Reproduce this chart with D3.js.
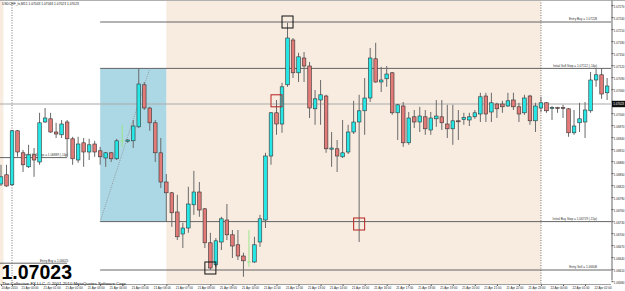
<!DOCTYPE html>
<html>
<head>
<meta charset="utf-8">
<script src="https://cdn.jsdelivr.net/npm/d3@7"></script>
<style>
  body { margin: 0; background: #fff; }
  svg { display: block; font-family: "Liberation Sans", Arial, sans-serif; }
</style>
</head>
<body>
<div id="chart"></div>
<script>
// USDCHF M15, first visible bar 20 Apr 2010 23:30, one bar every 15 min
const open = [1.06823,1.06846,1.06821,1.06956,1.06901,1.06866,1.06896,1.06878,1.06978,1.06986,
  1.06953,1.06946,1.06978,1.06936,1.06883,1.06926,1.06903,1.06923,1.06906,1.06888,
  1.06901,1.06886,1.06931,1.06930,1.06931,1.06966,1.07071,1.07013,1.06976,1.06901,
  1.06828,1.06801,1.06753,1.06698,1.06713,1.06771,1.06803,1.06761,1.06676,1.06621,
  1.06678,1.06733,1.06696,1.06671,1.06643,1.06628,1.06628,1.06678,1.06733,1.06893,
  1.07001,1.06973,1.07071,1.07183,1.07101,1.07138,1.07118,1.07011,1.07033,1.07043,
  1.06910,1.06911,1.06891,1.06903,1.06953,1.06978,1.07006,1.07038,1.07136,1.07078,
  1.07086,1.07101,1.07001,1.07018,1.06926,1.06991,1.06978,1.06991,1.06958,1.06986,
  1.06991,1.06973,1.06961,1.06981,1.06984,1.06983,1.06991,1.06998,1.07043,1.07003,
  1.07023,1.07023,1.07018,1.07033,1.07016,1.07001,1.07043,1.06981,1.07013,1.07026,
  1.07012,1.07014,1.07014,1.07011,1.06951,1.06976,1.06978,1.07006,1.07083,1.07096,
  1.07051];
const high = [1.06871,1.06871,1.06958,1.06958,1.06908,1.06921,1.06913,1.07001,1.07013,1.07001,
  1.06976,1.06983,1.06983,1.06941,1.06941,1.06938,1.06936,1.06931,1.06916,1.06903,
  1.06903,1.06936,1.06971,1.06935,1.06983,1.07113,1.07078,1.07016,1.06983,1.06938,
  1.06848,1.06803,1.06796,1.06726,1.06816,1.06856,1.06828,1.06763,1.06701,1.06688,
  1.06741,1.06773,1.06708,1.06708,1.06651,1.06708,1.06691,1.06746,1.06901,1.07003,
  1.07033,1.07076,1.07226,1.07188,1.07151,1.07153,1.07128,1.07058,1.07083,1.07046,
  1.06953,1.06933,1.06983,1.06971,1.07031,1.07046,1.07088,1.07163,1.07176,1.07116,
  1.07118,1.07103,1.07023,1.07028,1.07003,1.07008,1.07016,1.07008,1.07003,1.07033,
  1.07033,1.07021,1.07021,1.07008,1.07001,1.07001,1.07008,1.07051,1.07051,1.07051,
  1.07026,1.07031,1.07051,1.07051,1.07026,1.07046,1.07046,1.07026,1.07041,1.07028,
  1.07018,1.07016,1.07021,1.07013,1.07008,1.07026,1.07028,1.07103,1.07113,1.07113,
  1.07088];
const low = [1.06818,1.06816,1.06818,1.06891,1.06853,1.06863,1.06841,1.06871,1.06976,1.06951,
  1.06938,1.06938,1.06891,1.06871,1.06876,1.06866,1.06883,1.06891,1.06871,1.06866,
  1.06878,1.06883,1.06916,1.06926,1.06913,1.06963,1.07008,1.06956,1.06878,1.06813,
  1.06728,1.06716,1.06683,1.06663,1.06701,1.06746,1.06741,1.06663,1.06608,1.06616,
  1.06658,1.06683,1.06638,1.06633,1.06591,1.06616,1.06626,1.06666,1.06713,1.06871,
  1.06946,1.06951,1.07066,1.07088,1.07078,1.07078,1.06988,1.06971,1.06971,1.06901,
  1.06866,1.06853,1.06888,1.06898,1.06948,1.06678,1.06946,1.07028,1.07076,1.07053,
  1.07066,1.06996,1.06933,1.06916,1.06921,1.06963,1.06953,1.06946,1.06946,1.06966,
  1.06958,1.06938,1.06921,1.06933,1.06971,1.06968,1.06986,1.06978,1.06978,1.06978,
  1.06988,1.07001,1.07016,1.07008,1.06978,1.06996,1.06971,1.06953,1.07003,1.07001,
  1.06983,1.07001,1.06988,1.06941,1.06946,1.06953,1.06938,1.07001,1.07066,1.07036,
  1.07033];
const close = [1.06841,1.06818,1.06956,1.06903,1.06871,1.06896,1.06883,1.06976,1.06988,1.06953,
  1.06948,1.06973,1.06936,1.06886,1.06923,1.06903,1.06921,1.06903,1.06891,1.06901,
  1.06886,1.06931,1.06931,1.06933,1.06968,1.07073,1.07013,1.06976,1.06901,1.06828,
  1.06801,1.06751,1.06691,1.06713,1.06773,1.06803,1.06758,1.06676,1.06613,1.06681,
  1.06736,1.06696,1.06668,1.06643,1.06631,1.06628,1.06671,1.06736,1.06893,1.07001,
  1.06973,1.07066,1.07188,1.07101,1.07141,1.07118,1.07013,1.07036,1.07046,1.06911,
  1.06913,1.06893,1.06901,1.06953,1.06978,1.07006,1.07038,1.07138,1.07078,1.07083,
  1.07098,1.07001,1.07021,1.06926,1.06988,1.06978,1.06993,1.06961,1.06988,1.06993,
  1.06976,1.06961,1.06981,1.06980,1.06989,1.06991,1.07001,1.07041,1.06998,1.07026,
  1.07011,1.07016,1.07031,1.07016,1.06998,1.07038,1.06981,1.07018,1.07026,1.07006,
  1.07014,1.07012,1.07012,1.06951,1.06968,1.06986,1.07008,1.07083,1.07096,1.07048,
  1.07068];

// axis labels
const yTicks = [1.07270,1.07240,1.07210,1.07180,1.07150,1.07120,1.07090,1.07060,1.07030,1.07000,
  1.06970,1.06940,1.06910,1.06880,1.06850,1.06820,1.06790,1.06760,1.06730,1.06700,
  1.06670,1.06640,1.06610,1.06580];
const xTickLabels = ["20 Apr 2010","21 Apr 00:00","21 Apr 01:00","21 Apr 02:00","21 Apr 03:00","21 Apr 04:00",
  "21 Apr 05:00","21 Apr 06:00","21 Apr 07:00","21 Apr 08:00","21 Apr 09:00","21 Apr 10:00",
  "21 Apr 11:00","21 Apr 12:00","21 Apr 13:00","21 Apr 14:00","21 Apr 15:00","21 Apr 16:00",
  "21 Apr 17:00","21 Apr 18:00","21 Apr 19:00","21 Apr 20:00","21 Apr 21:00","21 Apr 22:00",
  "21 Apr 23:00","22 Apr 00:00","22 Apr 01:00","22 Apr 02:00"];

// objects on the chart (bar index / price)
const levelNames = ["Entry Buy = 1.07228","Initial Sell Stop = 1.07112 (-14p)","Initial Buy Stop = 1.06729 (-15p)",
  "Entry Sell = 1.06608","Initial Sell Stop = 1.06889 (-14p)","Entry Buy = 1.06625"];
const levelPrices = [1.07228, 1.07112, 1.06729, 1.06608, 1.06889, 1.06625];
const levelFrom = [18, 18, 18, 18, -3, -3];
const levelTo = [115, 115, 115, 115, 12, 12];
const levelLabelBar = [108, 108, 108, 108, 12, 12];
const shadeFrom = [-3, 30];
const shadeTo = [0.45, 98];
const separatorBars = [2, 98];
const boxBars = [18, 30];
const boxPrices = [1.07112, 1.06729];
const trendBars = [18, 27];
const trendPrices = [1.06729, 1.07112];
const markerBars = [52, 50, 38, 65];
const markerPrices = [1.07228, 1.07031, 1.06613, 1.06723];
const markerColors = ["#111", "#b52020", "#111", "#b52020"];
const bid = 1.07023;

const W = 625, H = 291;
const plotRight = 611, plotBottom = 284;

const x = d3.scaleLinear().domain([0, 110]).range([1, 607.1]);
const y = d3.scaleLinear().domain([1.07283, 1.06583]).range([0, 280]);

const svg = d3.select("#chart").append("svg")
  .attr("width", W).attr("height", H);

svg.append("rect").attr("width", W).attr("height", H).attr("fill", "#fff");

svg.append("defs").append("clipPath").attr("id", "plot")
  .append("rect").attr("x", 0).attr("y", 0).attr("width", plotRight).attr("height", plotBottom);

const plot = svg.append("g").attr("clip-path", "url(#plot)");

// session shading
plot.selectAll("rect.shade").data(shadeFrom).join("rect")
  .attr("class", "shade")
  .attr("x", d => x(d))
  .attr("y", 0)
  .attr("width", (d, i) => x(shadeTo[i]) - x(d))
  .attr("height", plotBottom)
  .attr("fill", "#f8ece1");

// range box
plot.append("rect")
  .attr("x", x(boxBars[0])).attr("y", y(boxPrices[0]))
  .attr("width", x(boxBars[1]) - x(boxBars[0]))
  .attr("height", y(boxPrices[1]) - y(boxPrices[0]))
  .attr("fill", "#acd8e6");

// day separators
plot.selectAll("line.sep").data(separatorBars).join("line")
  .attr("class", "sep")
  .attr("x1", d => x(d)).attr("x2", d => x(d))
  .attr("y1", 0).attr("y2", plotBottom)
  .attr("stroke", "#555").attr("stroke-width", 0.8)
  .attr("stroke-dasharray", "1,1.5");

// bid line
plot.append("line")
  .attr("x1", 0).attr("x2", plotRight)
  .attr("y1", y(bid)).attr("y2", y(bid))
  .attr("stroke", "#a9a9a9").attr("stroke-width", 1.2);

// level lines + labels
plot.selectAll("line.level").data(levelPrices).join("line")
  .attr("class", "level")
  .attr("x1", (d, i) => x(levelFrom[i])).attr("x2", (d, i) => x(levelTo[i]))
  .attr("y1", d => y(d)).attr("y2", d => y(d))
  .attr("stroke", "#555").attr("stroke-width", 0.9);

plot.selectAll("text.level").data(levelPrices).join("text")
  .attr("class", "level")
  .attr("x", (d, i) => x(levelLabelBar[i]) + 1)
  .attr("y", d => y(d) - 1.6)
  .attr("text-anchor", "end")
  .attr("font-size", 3.1)
  .attr("fill", "#333")
  .text((d, i) => levelNames[i]);

// dotted trend line inside the box
plot.append("line")
  .attr("x1", x(trendBars[0])).attr("y1", y(trendPrices[0]))
  .attr("x2", x(trendBars[1])).attr("y2", y(trendPrices[1]))
  .attr("stroke", "#8a8a8a").attr("stroke-width", 0.8)
  .attr("stroke-dasharray", "1,1.2");

// candles
const bars = d3.range(open.length);
const bodyW = 3.6;
const upColor = "#26e6e6", downColor = "#e27a78", dojiColor = "#9be58c";

plot.selectAll("line.wick").data(bars).join("line")
  .attr("class", "wick")
  .attr("x1", i => x(i)).attr("x2", i => x(i))
  .attr("y1", i => y(high[i])).attr("y2", i => y(low[i]))
  .attr("stroke", i => open[i] === close[i] ? dojiColor : "#6a6a6a")
  .attr("stroke-width", 1);

plot.selectAll("rect.body").data(bars.filter(i => open[i] !== close[i])).join("rect")
  .attr("class", "body")
  .attr("x", i => x(i) - bodyW / 2)
  .attr("y", i => y(Math.max(open[i], close[i])))
  .attr("width", bodyW)
  .attr("height", i => Math.max(1, Math.abs(y(open[i]) - y(close[i]))))
  .attr("fill", i => close[i] > open[i] ? upColor : downColor)
  .attr("stroke", "#333").attr("stroke-width", 0.6);

plot.selectAll("line.doji").data(bars.filter(i => open[i] === close[i])).join("line")
  .attr("class", "doji")
  .attr("x1", i => x(i) - bodyW / 2).attr("x2", i => x(i) + bodyW / 2)
  .attr("y1", i => y(open[i])).attr("y2", i => y(open[i]))
  .attr("stroke", dojiColor).attr("stroke-width", 1);

// trade markers
plot.selectAll("rect.marker").data(markerBars).join("rect")
  .attr("class", "marker")
  .attr("x", d => x(d) - 5.5)
  .attr("y", (d, i) => y(markerPrices[i]) - 6)
  .attr("width", 11).attr("height", 12)
  .attr("fill", "none")
  .attr("stroke", (d, i) => markerColors[i]).attr("stroke-width", 1);

// frame
svg.append("line").attr("x1", 0).attr("x2", W).attr("y1", 0.5).attr("y2", 0.5)
  .attr("stroke", "#b0b0b0");
svg.append("line").attr("x1", 0).attr("x2", plotRight).attr("y1", plotBottom + 0.5).attr("y2", plotBottom + 0.5)
  .attr("stroke", "#888").attr("stroke-width", 0.8);

// price axis
const yAxis = svg.append("g")
  .attr("transform", `translate(${plotRight + 0.5},0)`)
  .call(d3.axisRight(y).tickValues(yTicks).tickSize(2).tickSizeOuter(0).tickFormat(d3.format(".5f")));
yAxis.select(".domain").attr("stroke", "#666");
yAxis.selectAll(".tick line").attr("stroke", "#555");
yAxis.selectAll(".tick text")
  .attr("x", 2.3).attr("dy", "0.9em")
  .attr("font-size", 2.95).attr("fill", "#222")
  .attr("font-family", "Liberation Sans, Arial, sans-serif");

// current price tag
svg.append("rect")
  .attr("x", plotRight + 1).attr("y", y(bid) - 3.2)
  .attr("width", W - plotRight).attr("height", 6.4)
  .attr("fill", "#111");
svg.append("text")
  .attr("x", plotRight + 2.3).attr("y", y(bid) + 1.2)
  .attr("font-size", 2.95).attr("fill", "#fff")
  .text(d3.format(".5f")(bid));

// time axis
const xTickBars = xTickLabels.map((d, i) => i === 0 ? 0 : 2 + 4 * (i - 1));
const xAxis = svg.append("g")
  .attr("transform", `translate(0,${plotBottom + 0.5})`)
  .call(d3.axisBottom(x).tickValues(xTickBars).tickSize(1.5).tickSizeOuter(0)
    .tickFormat((d, i) => xTickLabels[i]));
xAxis.select(".domain").remove();
xAxis.selectAll(".tick line").attr("stroke", "#555");
xAxis.selectAll(".tick text")
  .attr("text-anchor", "start")
  .attr("x", (d, i) => i === 0 ? 0 : 9)
  .attr("y", 1.8).attr("dy", "0.9em")
  .attr("font-size", 3).attr("fill", "#222")
  .attr("font-family", "Liberation Sans, Arial, sans-serif");

// header and overlay texts
svg.append("text").attr("x", 2).attr("y", 5)
  .attr("font-size", 3.3).attr("fill", "#222")
  .text("USDCHF_fx,M15  1.07043 1.07063 1.07023 1.07023");

svg.append("text").attr("x", 1.5).attr("y", 279)
  .attr("font-size", 19.5).attr("font-weight", "bold").attr("fill", "#000")
  .text(d3.format(".5f")(bid));

svg.append("text").attr("x", 2).attr("y", 284.6)
  .attr("font-size", 4.3).attr("fill", "#111")
  .text("The Collective FX LLC, © 2001-2010 MetaQuotes Software Corp.");
</script>
</body>
</html>
